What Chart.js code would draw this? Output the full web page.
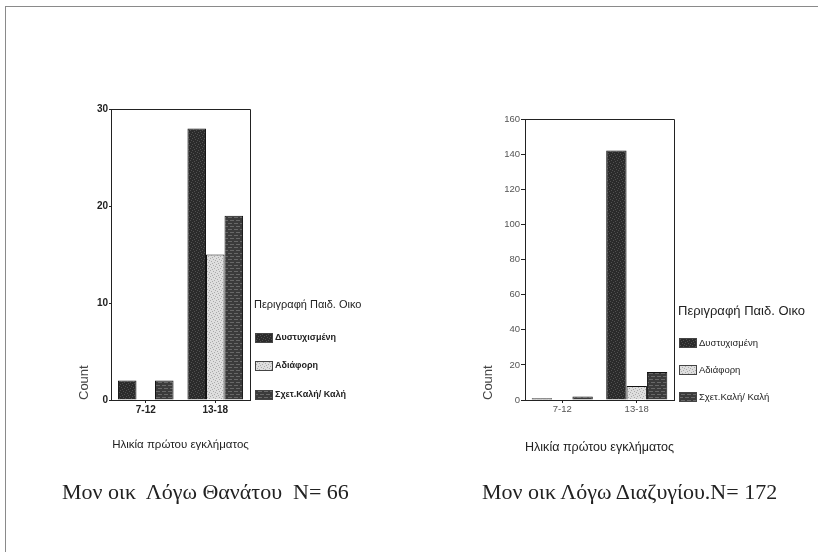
<!DOCTYPE html>
<html>
<head>
<meta charset="utf-8">
<script src="https://cdn.jsdelivr.net/npm/chart.js@4.4.1/dist/chart.umd.min.js"></script>
<style>
  html, body { margin: 0; padding: 0; background: #fff; }
  body { width: 818px; height: 555px; position: relative; overflow: hidden; }
  #frame { position: absolute; left: 5px; top: 6px; width: 813px; height: 545px;
           border-top: 1px solid #8a8a8a; border-left: 1px solid #8a8a8a; }
  .box { position: absolute; top: 0; width: 409px; height: 555px; }
  .cap { position: absolute; top: 479px; white-space: pre; color: #222;
         font-family: "Liberation Serif", "DejaVu Serif", serif; font-size: 22px; }
</style>
</head>
<body>
<div id="frame"></div>
<div class="box" style="left:0"><canvas id="death"></canvas></div>
<div class="box" style="left:409px"><canvas id="divorce"></canvas></div>
<div class="cap" style="left:62px">Μον οικ  Λόγω Θανάτου  N= 66</div>
<div class="cap" style="left:482px">Μον οικ Λόγω Διαζυγίου.N= 172</div>

<script>
const ageGroups = ["7-12", "13-18"];
const familyTypes = ["Δυστυχισμένη", "Αδιάφορη", "Σχετ.Καλή/ Καλή"];

// Μον οικ Λόγω Θανάτου (N = 66)
const deathUnhappy = [2, 28];
const deathIndifferent = [0, 15];
const deathGood = [2, 19];

// Μον οικ Λόγω Διαζυγίου (N = 172)
const divorceUnhappy = [1, 142];
const divorceIndifferent = [0, 8];
const divorceGood = [2, 16];

const deathMax = 30, deathStep = 10;
const divorceMax = 160, divorceStep = 20;

// textured fills, like the old scanned SPSS bars
function texture(base, dot, kind) {
  const c = document.createElement("canvas");
  c.width = 6; c.height = 6;
  const g = c.getContext("2d");
  g.fillStyle = base;
  g.fillRect(0, 0, 6, 6);
  g.fillStyle = dot;
  if (kind === "lines") {
    g.fillRect(0, 1, 4, 1);
    g.fillRect(2, 4, 4, 1);
  } else {
    [[0, 0], [3, 1], [1, 3], [4, 4], [2, 5], [5, 2]].forEach(([x, y]) => g.fillRect(x, y, 1, 1));
  }
  return g.createPattern(c, "repeat");
}
const fills = [
  texture("#2b2b2b", "#505050", "dots"),
  texture("#dedede", "#aaa", "dots"),
  texture("#3b3b3b", "#686868", "lines"),
];

const framePlugin = {
  id: "frame",
  afterDraw(chart) {
    const { ctx, chartArea: a } = chart;
    ctx.save();
    ctx.strokeStyle = "#222";
    ctx.lineWidth = 1;
    ctx.beginPath();
    ctx.moveTo(a.left, a.top + 0.5);
    ctx.lineTo(a.right + 0.5, a.top + 0.5);
    ctx.lineTo(a.right + 0.5, a.bottom);
    ctx.stroke();
    ctx.restore();
  }
};

const legendPlugin = {
  id: "sideLegend",
  afterDraw(chart, args, o) {
    const ctx = chart.ctx;
    ctx.save();
    ctx.textBaseline = "middle";
    ctx.fillStyle = "#222";
    ctx.font = o.titleFont;
    ctx.fillText("Περιγραφή Παιδ. Οικο", o.x, o.titleY);
    ctx.font = o.itemFont;
    chart.data.datasets.forEach((ds, i) => {
      const y = o.itemY[i];
      ctx.fillStyle = ds.backgroundColor;
      ctx.fillRect(o.x + 1, y - 5, 18, 10);
      ctx.strokeStyle = "#444";
      ctx.strokeRect(o.x + 1.5, y - 4.5, 17, 9);
      ctx.fillStyle = "#222";
      ctx.fillText(ds.label, o.x + 21, y);
    });
    ctx.restore();
  }
};

function drawChart(id, series, yMax, yStep, s) {
  new Chart(document.getElementById(id), {
    type: "bar",
    data: {
      labels: ageGroups,
      datasets: familyTypes.map((name, i) => ({
        label: name,
        data: series[i],
        backgroundColor: fills[i],
        borderColor: "#111",
        borderWidth: 1,
        categoryPercentage: s.cat,
        barPercentage: 1,
      })),
    },
    options: {
      responsive: true,
      maintainAspectRatio: false,
      animation: false,
      layout: { padding: s.pad },
      plugins: {
        legend: { display: false },
        tooltip: { enabled: false },
        sideLegend: s.legend,
      },
      scales: {
        x: {
          grid: { drawOnChartArea: false, offset: false, tickLength: 3, color: "#222" },
          border: { color: "#222" },
          ticks: { font: s.tickFont, color: s.tickColor, padding: 1 },
          title: { display: true, text: "Ηλικία πρώτου εγκλήματος", font: s.titleFont,
                   color: "#222", padding: { top: 0, bottom: 3 } },
          afterFit(scale) { scale.height = s.xh; },
        },
        y: {
          min: 0,
          max: yMax,
          grid: { drawOnChartArea: false, tickLength: s.yTick, color: "#222" },
          border: { color: "#222" },
          ticks: { stepSize: yStep, font: s.tickFont, color: s.tickColor, padding: 1 },
          title: { display: true, text: "Count", align: "start", font: { family: "Liberation Sans", size: 13 },
                   color: "#444", padding: { top: s.countPad, bottom: 0 } },
          afterFit(scale) { scale.width = s.yw; },
        },
      },
    },
    plugins: [framePlugin, legendPlugin],
  });
}

drawChart("death", [deathUnhappy, deathIndifferent, deathGood], deathMax, deathStep, {
  cat: 0.8,
  pad: { left: 71, top: 109, right: 159, bottom: 100 },
  xh: 55, yw: 40, yTick: 2, countPad: 6,
  tickFont: { family: "'Liberation Sans Narrow', 'Liberation Sans'", size: 10, weight: "bold" },
  tickColor: "#222",
  titleFont: { family: "'Liberation Sans Narrow', 'Liberation Sans'", size: 11.5 },
  legend: {
    x: 254, titleY: 305, itemY: [338, 366, 395],
    titleFont: "11px 'Liberation Sans Narrow', 'Liberation Sans'",
    itemFont: "bold 9px 'Liberation Sans Narrow', 'Liberation Sans'",
  },
});

drawChart("divorce", [divorceUnhappy, divorceIndifferent, divorceGood], divorceMax, divorceStep, {
  cat: 0.82,
  pad: { left: 70, top: 119, right: 144, bottom: 97 },
  xh: 58, yw: 46, yTick: 4, countPad: 2,
  tickFont: { family: "'Liberation Sans'", size: 9.5 },
  tickColor: "#555",
  titleFont: { family: "'Liberation Sans'", size: 13 },
  legend: {
    x: 269, titleY: 311, itemY: [343, 370, 397],
    titleFont: "13px 'Liberation Sans'",
    itemFont: "9.5px 'Liberation Sans'",
  },
});
</script>
</body>
</html>
